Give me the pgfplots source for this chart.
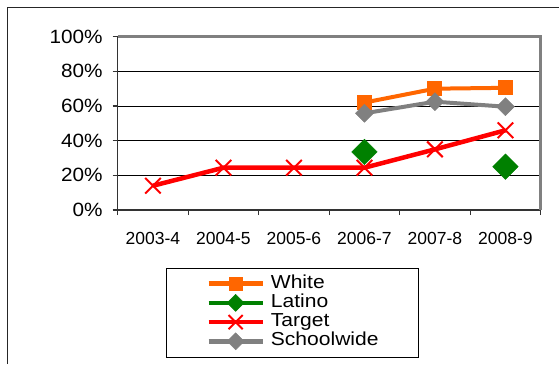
\documentclass[border=0pt]{standalone}
\usepackage{pgfplots}
\pgfplotsset{compat=1.18}
\usepackage{fontspec}
\setmainfont{Liberation Sans}
\newfontfamily\legfont{Liberation Sans}[FakeStretch=1.12]
\newfontfamily\yfont{Liberation Sans}[FakeStretch=1.08]
\definecolor{cwhite}{HTML}{FF6600}
\definecolor{clatino}{HTML}{008000}
\definecolor{ctarget}{HTML}{FF0000}
\definecolor{cschool}{HTML}{808080}
\begin{document}
\begin{tikzpicture}[x=1pt,y=1pt]
\useasboundingbox (0,0) rectangle (559,364);
\draw[line width=1.3pt, color=black!85] (7.5,0) -- (7.5,356.3) -- (559,356.3);
\begin{axis}[
  at={(117.7pt,154pt)}, anchor=south west,
  scale only axis, width=423pt, height=173.3pt,
  xmin=-0.5, xmax=5.5, ymin=0, ymax=100,
  axis lines*=left,
  axis line style={-, line width=1.3pt, color=black!80},
  xtick={0,...,5},
  xticklabels={2003-4,2004-5,2005-6,2006-7,2007-8,2008-9},
  minor xtick={-0.5,0.5,...,5.5},
  major x tick style={draw=none},
  ytick={0,20,...,100},
  yticklabels={0\%,20\%,40\%,60\%,80\%,100\%},
  /pgf/number format/assume math mode=true,
  tick align=outside,
  major tick length=5pt, minor tick length=5pt,
  tick style={line width=1.3pt, black!80},
  ymajorgrids, grid style={line width=0.8pt, black},
  xticklabel style={font=\fontsize{17.5}{20}\selectfont, yshift=-14pt},
  yticklabel style={font=\yfont\fontsize{19.2}{22}\selectfont, xshift=-6.5pt},
  unbounded coords=jump,
  clip=false,
  legend style={at={(rel axis cs:0.1142,-0.333)}, anchor=north west,
    draw=black, line width=0.8pt, inner xsep=40pt, inner ysep=6pt,
    font=\legfont\fontsize{18.8}{19}\selectfont, row sep=0pt,
    nodes={text height=14pt, text depth=5.2pt, inner ysep=0pt, inner xsep=0pt}},
  legend cell align=left,
  legend image code/.code={%
    \draw[mark repeat=2,mark phase=2,#1] plot coordinates {(0pt,0pt) (27pt,0pt) (54pt,0pt)};
    \path (60pt,0pt);},
]
\addplot[forget plot, color=cwhite, line width=4pt, mark=square*, mark size=7pt, mark options={line width=1pt}]
  coordinates {(3,62) (4,70) (5,70.5)};
\addplot[forget plot, color=clatino, line width=4pt, mark=square*, mark size=9pt, mark options={rotate=45, line width=0.5pt}]
  coordinates {(3,33.5) (4,nan) (5,25)};
\addplot[forget plot, color=ctarget, line width=4.5pt, mark=x, mark size=11pt, mark options={line width=2pt}]
  coordinates {(0,14) (1,24.4) (2,24.4) (3,24.4) (4,35) (5,46)};
\addplot[forget plot, color=cschool, line width=4pt, mark=square*, mark size=6.3pt, mark options={rotate=45, line width=0.5pt}]
  coordinates {(3,55.8) (4,62.5) (5,59.6)};
\draw[line width=2.5pt, color=cschool] (rel axis cs:0,1) -- (rel axis cs:1,1) -- (rel axis cs:1,0);
\addlegendimage{color=cwhite, line width=4.5pt, mark=square*, mark size=6.5pt, mark options={line width=0.5pt}}
\addlegendentry{White}
\addlegendimage{color=clatino, line width=4.5pt, mark=square*, mark size=6pt, mark options={rotate=45, line width=0.5pt}}
\addlegendentry{Latino}
\addlegendimage{color=ctarget, line width=4.5pt, mark=x, mark size=10pt, mark options={line width=2pt}}
\addlegendentry{Target}
\addlegendimage{color=cschool, line width=4.5pt, mark=square*, mark size=6pt, mark options={rotate=45, line width=0.5pt}}
\addlegendentry{Schoolwide}
\end{axis}
\end{tikzpicture}
\end{document}
